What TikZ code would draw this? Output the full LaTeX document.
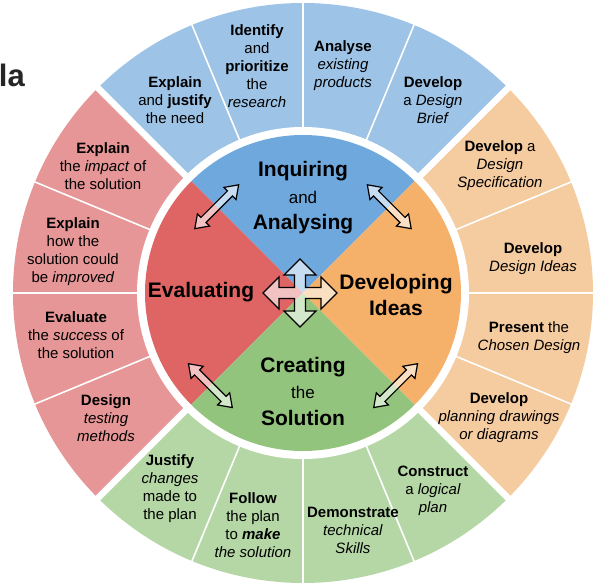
\documentclass[tikz,border=0pt]{standalone}
\usepackage{fontspec}
\setmainfont{Liberation Sans}
\usepackage{xcolor}
\usetikzlibrary{shapes.arrows}

\definecolor{inqlight}{HTML}{9DC3E6}
\definecolor{inqdark}{HTML}{6FA8DC}
\definecolor{devlight}{HTML}{F5CBA0}
\definecolor{devdark}{HTML}{F5B06A}
\definecolor{crelight}{HTML}{B5D7A6}
\definecolor{credark}{HTML}{93C47D}
\definecolor{evalight}{HTML}{E69696}
\definecolor{evadark}{HTML}{DF6464}

\newcommand{\phasejoin}[1]{{\mdseries\fontsize{17}{26.5}\selectfont #1}}

\begin{document}
\begin{tikzpicture}[x=1pt,y=1pt,
    task/.style={align=center,font=\fontsize{15}{18}\selectfont},
    phase/.style={align=center,font=\bfseries\fontsize{21}{26.5}\selectfont},
    link/.style={double arrow,draw,line width=1.2pt,fill=white,fill opacity=.6,
      minimum height=62pt,inner sep=3pt,double arrow head extend=5pt,
      double arrow tip angle=70}]
    \useasboundingbox (-303,-295) rectangle (294,293);

    \node [anchor=base east,inner sep=0pt,font=\bfseries\fontsize{31}{31}\selectfont,text=black!85] (title) at (-278,206) {la};

    \fill [inqlight] (0,0) -- (45:290) arc[start angle=45,end angle=135,radius=290] -- cycle;
    \fill [evalight] (0,0) -- (135:290) arc[start angle=135,end angle=225,radius=290] -- cycle;
    \fill [crelight] (0,0) -- (225:290) arc[start angle=225,end angle=315,radius=290] -- cycle;
    \fill [devlight] (0,0) -- (-45:290) arc[start angle=-45,end angle=45,radius=290] -- cycle;
    \foreach \a in {0,22.5,...,337.5}
      \draw [white,line width=1.6pt] (0,0) -- (\a:292);
    \foreach \a in {45,135,225,315}
      \draw [white,line width=6.5pt] (0,0) -- (\a:295);
    \fill [white] (0,0) circle[radius=166];
    \fill [inqdark] (0,0) -- (45:158) arc[start angle=45,end angle=135,radius=158] -- cycle;
    \fill [evadark] (0,0) -- (135:158) arc[start angle=135,end angle=225,radius=158] -- cycle;
    \fill [credark] (0,0) -- (225:158) arc[start angle=225,end angle=315,radius=158] -- cycle;
    \fill [devdark] (0,0) -- (-45:158) arc[start angle=-45,end angle=45,radius=158] -- cycle;

    \node [phase] (inquiring) at (0,95) {Inquiring\\\phasejoin{and}\\Analysing};
    \node [phase] (developing) at (93,-2) {Developing\\Ideas};
    \node [phase] (creating) at (0,-98) {Creating\\\phasejoin{the}\\Solution};
    \node [phase] (evaluating) at (-102,1) {Evaluating};

    \foreach \a/\r in {45/122,135/122,225/131,315/131}
      \node [link,rotate=\a-90] (link\a) at (\a:\r) {};

    \draw [line width=1.2pt,fill=white,fill opacity=.6,line join=miter]
      (-3,34) -- (13,18) -- (2.5,18) -- (2.5,5.5) -- (18,5.5) -- (18,16) -- (34,0)
      -- (18,-16) -- (18,-5.5) -- (2.5,-5.5) -- (2.5,-18) -- (13,-18) -- (-3,-34)
      -- (-19,-18) -- (-8.5,-18) -- (-8.5,-5.5) -- (-24,-5.5) -- (-24,-16) -- (-40,0)
      -- (-24,16) -- (-24,5.5) -- (-8.5,5.5) -- (-8.5,18) -- (-19,18) -- cycle;

    \node [task] (justifyneed) at (-128,193) {\textbf{Explain}\\and \textbf{justify}\\the need};
    \node [task] (identify) at (-46,227) {\textbf{Identify}\\and\\\textbf{prioritize}\\the\\\textit{research}};
    \node [task] (analyse) at (40,227) {\textbf{Analyse}\\\textit{existing}\\\textit{products}};
    \node [task] (brief) at (130,193) {\textbf{Develop}\\a \textit{Design}\\\textit{Brief}};

    \node [task] (specification) at (197,127) {\textbf{Develop} a\\\textit{Design}\\\textit{Specification}};
    \node [task] (ideas) at (230,34) {\textbf{Develop}\\\textit{Design Ideas}};
    \node [task] (present) at (226,-45) {\textbf{Present} the\\\textit{Chosen Design}};
    \node [task] (drawings) at (196,-125) {\textbf{Develop}\\\textit{planning drawings}\\\textit{or diagrams}};

    \node [task] (construct) at (130,-198) {\textbf{Construct}\\a \textit{logical}\\\textit{plan}};
    \node [task] (demonstrate) at (50,-237) {\textbf{Demonstrate}\\\textit{technical}\\\textit{Skills}};
    \node [task] (follow) at (-50,-232) {\textbf{Follow}\\the plan\\to \textbf{\textit{make}}\\\textit{the solution}};
    \node [task] (justifychanges) at (-133,-196) {\textbf{Justify}\\\textit{changes}\\made to\\the plan};

    \node [task] (testing) at (-197,-125) {\textbf{Design}\\\textit{testing}\\\textit{methods}};
    \node [task] (success) at (-227,-42) {\textbf{Evaluate}\\the \textit{success} of\\the solution};
    \node [task] (improved) at (-230,41) {\textbf{Explain}\\how the\\solution could\\be \textit{improved}};
    \node [task] (impact) at (-200,127) {\textbf{Explain}\\the \textit{impact} of\\the solution};
\end{tikzpicture}
\end{document}
